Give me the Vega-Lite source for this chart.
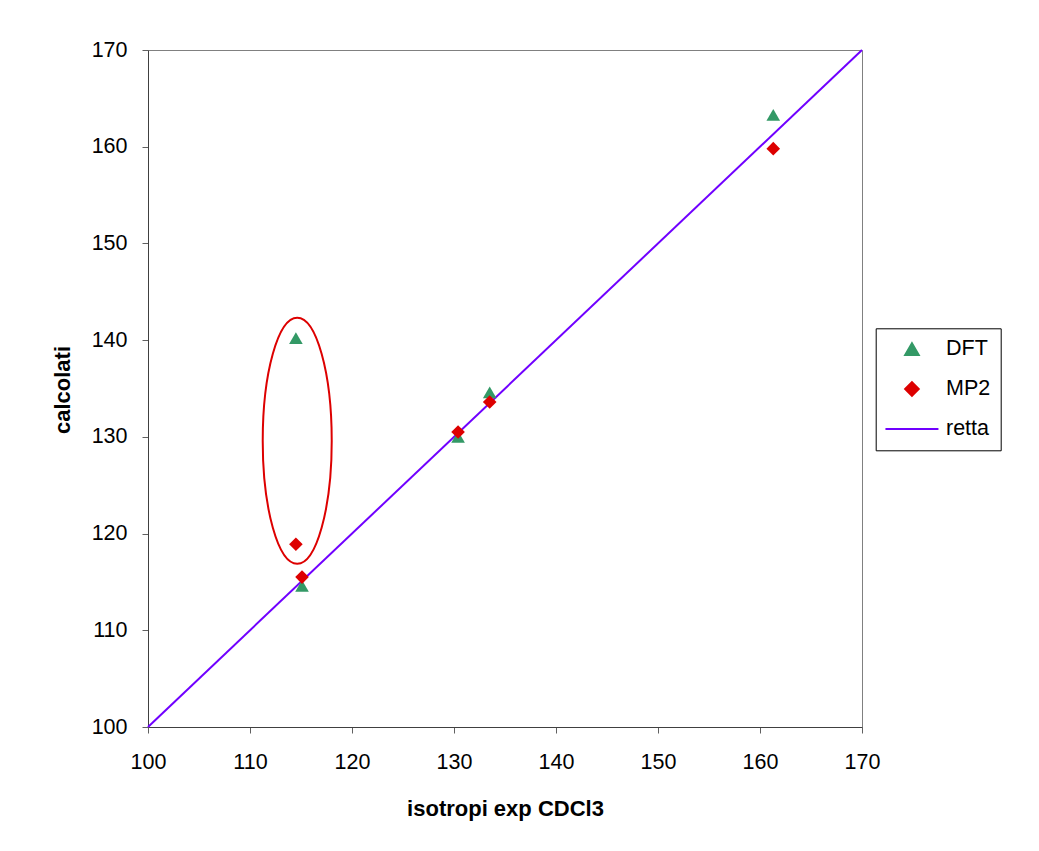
{
  "$schema": "https://vega.github.io/schema/vega-lite/v6.json",
  "width": 714,
  "height": 677,
  "autosize": {"type": "none"},
  "padding": {"left": 148, "top": 50, "right": 177, "bottom": 124},
  "background": "white",
  "config": {
    "font": "Liberation Sans",
    "view": {"stroke": "#808080", "strokeWidth": 1},
    "axis": {
      "grid": false,
      "domainColor": "#404040",
      "domainWidth": 1,
      "tickColor": "#606060",
      "tickSize": 6,
      "labelFlush": false,
      "labelOverlap": false,
      "labelFont": "Liberation Sans",
      "labelFontSize": 21.5,
      "labelColor": "black",
      "titleFont": "Liberation Sans",
      "titleFontSize": 22,
      "titleFontWeight": "bold",
      "titleColor": "black"
    },
    "legend": {
      "title": null,
      "orient": "none",
      "legendX": 727.7,
      "legendY": 278.3,
      "strokeColor": "black",
      "fillColor": "white",
      "padding": 10,
      "labelFont": "Liberation Sans",
      "labelFontSize": 21.5,
      "labelColor": "black",
      "symbolSize": 2809,
      "symbolStrokeWidth": 2,
      "symbolOffset": 15.5,
      "labelOffset": 23.3,
      "rowPadding": 17
    }
  },
  "datasets": {
    "calcolati": [
      {"exp": 114.5, "calc": 140.2, "series": "DFT"},
      {"exp": 115.1, "calc": 114.6, "series": "DFT"},
      {"exp": 130.4, "calc": 130.0, "series": "DFT"},
      {"exp": 133.5, "calc": 134.6, "series": "DFT"},
      {"exp": 161.3, "calc": 163.3, "series": "DFT"},
      {"exp": 114.5, "calc": 118.9, "series": "MP2"},
      {"exp": 115.1, "calc": 115.5, "series": "MP2"},
      {"exp": 130.4, "calc": 130.5, "series": "MP2"},
      {"exp": 133.5, "calc": 133.6, "series": "MP2"},
      {"exp": 161.3, "calc": 159.8, "series": "MP2"}
    ],
    "retta": [
      {"exp": 100, "calc": 100, "series": "retta"},
      {"exp": 170, "calc": 170, "series": "retta"}
    ],
    "evidenza": [
      {"exp": 114.63, "calc": 129.59}
    ]
  },
  "layer": [
    {
      "data": {"name": "retta"},
      "mark": {"type": "line", "strokeWidth": 2},
      "encoding": {
        "x": {
          "field": "exp", "type": "quantitative",
          "scale": {"domain": [100, 170], "nice": false, "zero": false},
          "axis": {
            "values": [100, 110, 120, 130, 140, 150, 160, 170],
            "labelPadding": 18,
            "title": "isotropi exp CDCl3",
            "titleX": 357,
            "titleY": 88,
            "titleAlign": "center",
            "titleBaseline": "alphabetic"
          }
        },
        "y": {
          "field": "calc", "type": "quantitative",
          "scale": {"domain": [100, 170], "nice": false, "zero": false},
          "axis": {
            "values": [100, 110, 120, 130, 140, 150, 160, 170],
            "labelPadding": 15,
            "title": "calcolati",
            "titleAngle": 270,
            "titleX": -79,
            "titleY": 339.5,
            "titleAlign": "center",
            "titleBaseline": "alphabetic"
          }
        },
        "color": {
          "field": "series", "type": "nominal",
          "scale": {"domain": ["DFT", "MP2", "retta"], "range": ["#339966", "#DD0000", "#7000FF"]},
          "legend": {
            "encode": {
              "symbols": {
                "update": {
                  "size": {"signal": "datum.value === 'retta' ? 2809 : 185"},
                  "fill": {"signal": "datum.value === 'retta' ? 'transparent' : scale('color', datum.value)"},
                  "stroke": {"signal": "datum.value === 'retta' ? '#7000FF' : 'transparent'"},
                  "opacity": {"value": 1}
                }
              }
            }
          }
        }
      }
    },
    {
      "data": {"name": "calcolati"},
      "mark": {"type": "point", "filled": true, "size": 185, "opacity": 1},
      "encoding": {
        "x": {"field": "exp", "type": "quantitative"},
        "y": {"field": "calc", "type": "quantitative"},
        "color": {
          "field": "series", "type": "nominal",
          "legend": {
            "encode": {
              "symbols": {
                "update": {
                  "size": {"signal": "datum.value === 'retta' ? 2809 : 185"},
                  "fill": {"signal": "datum.value === 'retta' ? 'transparent' : scale('color', datum.value)"},
                  "stroke": {"signal": "datum.value === 'retta' ? '#7000FF' : 'transparent'"},
                  "opacity": {"value": 1}
                }
              }
            }
          }
        },
        "shape": {
          "field": "series", "type": "nominal",
          "scale": {"domain": ["DFT", "MP2", "retta"], "range": ["triangle-up", "diamond", "stroke"]},
          "legend": {
            "encode": {
              "symbols": {
                "update": {
                  "size": {"signal": "datum.value === 'retta' ? 2809 : 185"},
                  "fill": {"signal": "datum.value === 'retta' ? 'transparent' : scale('color', datum.value)"},
                  "stroke": {"signal": "datum.value === 'retta' ? '#7000FF' : 'transparent'"},
                  "opacity": {"value": 1}
                }
              }
            }
          }
        }
      }
    },
    {
      "data": {"name": "evidenza"},
      "mark": {
        "type": "point",
        "shape": "M0,-1C0.1549,-1,0.2805,-0.5523,0.2805,0C0.2805,0.5523,0.1549,1,0,1C-0.1549,1,-0.2805,0.5523,-0.2805,0C-0.2805,-0.5523,-0.1549,-1,0,-1Z",
        "size": 60516,
        "filled": false,
        "stroke": "#DD0000",
        "strokeWidth": 2,
        "opacity": 1
      },
      "encoding": {
        "x": {"field": "exp", "type": "quantitative"},
        "y": {"field": "calc", "type": "quantitative"}
      }
    }
  ]
}
